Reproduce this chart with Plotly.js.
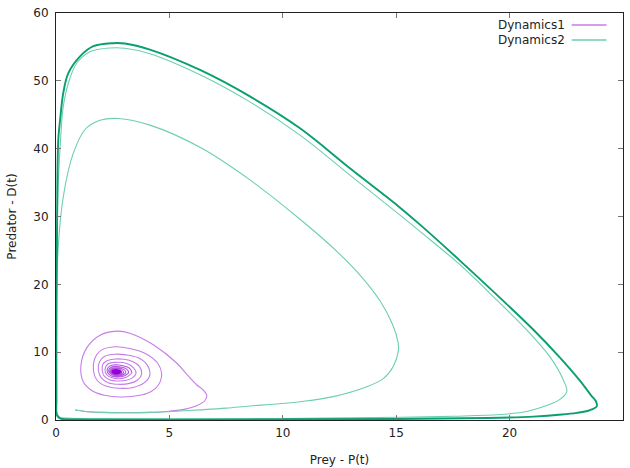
<!DOCTYPE html>
<html>
<head>
<meta charset="utf-8">
<script src="https://cdn.plot.ly/plotly-3.0.1.min.js"></script>
<style>html,body{margin:0;padding:0;background:#fff;}#chart{width:630px;height:468px;}</style>
</head>
<body>
<div id="chart"></div>
<script>
// ---- Data (Prey P, Predator D) ----
var seriesNames = ["Dynamics1", "Dynamics2"];
var xTitle = "Prey - P(t)";
var yTitle = "Predator - D(t)";

// Dynamics1: outer part of the spiral
var dyn1OuterP = [0.84,1.4,1.94,3.0,4.14,5.0,5.7,6.2,6.55,
  6.65,6.5,6.2,5.8,5.32,4.29,3.26,2.68,1.94,1.35,1.1,1.2,1.65,2.2,2.82,3.5,4.0,4.4,4.6,4.66,
  4.5,4.0,3.3,2.6,2.0,1.7,1.65,1.8,2.2,2.8,3.4,3.9,4.14,
  4.0,3.6,3.1,2.6,2.15,1.92,1.87,2.0,2.3,2.75,3.25,3.6,3.78,
  3.68,3.4,3.0,2.6,2.25,2.06,2.04,2.12,2.35,2.7,3.1,3.38,3.53,
  3.42,3.15,2.6,2.3,2.16,2.25,2.65,3.1,3.35];
var dyn1OuterD = [1.47,1.22,1.13,1.06,1.13,1.3,1.6,2.1,2.8,
  3.6,4.4,5.2,6.6,8.4,11.1,12.8,13.1,12.5,10.6,8.1,5.65,4.2,3.6,3.4,3.55,3.9,4.7,5.7,6.8,
  8.3,9.7,10.5,10.8,10.3,9.0,7.3,5.9,5.0,4.67,4.8,5.5,6.7,
  8.2,9.2,9.6,9.7,9.4,8.6,7.3,6.2,5.5,5.26,5.4,5.9,6.8,
  7.9,8.6,8.95,9.0,8.75,8.2,7.3,6.5,5.95,5.75,5.85,6.25,6.9,
  7.7,8.3,8.5,8.3,7.4,6.6,6.1,6.3,6.95];
// Dynamics1: tighter rings
var dyn1MidP = [3.35,3.25,2.95,2.6,2.35,2.25,2.35,2.65,3.0,3.2,
  3.12,2.85,2.6,2.4,2.32,2.42,2.65,2.95,3.08,
  3.0,2.6,2.42,2.38,2.45,2.65,2.9,2.98,
  2.9,2.6,2.43,2.5,2.65,2.86,2.9];
var dyn1MidD = [6.95,7.6,8.0,8.15,7.9,7.35,6.7,6.35,6.5,6.97,
  7.5,7.82,7.9,7.7,7.3,6.8,6.5,6.65,6.98,
  7.42,7.7,7.5,7.2,6.85,6.65,6.75,7.0,
  7.35,7.55,7.25,6.9,6.75,6.85,7.0];
// Dynamics1: core near the equilibrium
var dyn1CoreP = [2.9,2.82,2.6,2.47,2.52,2.65,2.8,2.83,
  2.77,2.6,2.5,2.56,2.7,2.77,
  2.72,2.6,2.53,2.6,2.7,2.72,
  2.67,2.6,2.56,2.62,2.67,2.64,2.6,2.59,2.62];
var dyn1CoreD = [7.0,7.28,7.42,7.2,6.95,6.82,6.9,7.0,
  7.22,7.33,7.15,6.95,6.9,7.02,
  7.17,7.25,7.1,6.95,6.97,7.05,
  7.12,7.17,7.07,6.98,7.03,7.08,7.1,7.04,7.02];

// Dynamics2: transient loops
var dyn2TransP = [0.84,1.4,1.94,3.0,4.14,5.3,6.35,7.5,8.55,9.7,10.76,12.23,13.7,14.43,14.87,15.1,15.08,14.85,14.3,13.5,12.37,10.72,8.55,6.35,4.14,2.75,1.94,1.3,0.76,0.32,0.1,0.03,0.01,0.01,0.03,0.15,0.5,2,5,10,
  15.17,17.5,19.58,20.8,21.6,22.2,22.52,22.37,21.78,20.75,19.43,17.81,16.05,15.17,12.96,10.76,8.55,6.35,4.14,3.04,2.4,1.5,0.91,0.54,0.32,0.22,0.1,0.04,0.02,0.02,0.05,0.2,1,5,10];
var dyn2TransD = [1.47,1.22,1.13,1.06,1.13,1.3,1.5,1.75,2.06,2.35,2.7,3.45,4.9,6.1,7.9,10.3,11.5,14.0,17.5,21.0,24.9,29.7,35.4,40.2,43.47,44.45,44.2,42.9,39.3,32.9,25.6,18.2,10,4,1.2,0.45,0.28,0.2,0.18,0.22,
  0.4,0.55,0.8,1.3,2.1,3.0,4.2,5.9,9.3,13.3,17.7,22.9,27.8,30.2,36.1,42.0,46.9,50.9,54.0,54.8,54.85,54.3,52.6,49.6,46.2,42.3,35,25,12,3,0.8,0.3,0.15,0.1,0.12];
// Dynamics2: converged limit cycle (traced repeatedly, drawn thick)
var dyn2CycleP = [10,15,19,21.05,22.3,22.96,23.5,23.84,23.8,23.6,23.1,22.22,21.05,19.58,17.81,16.05,15.17,12.96,10.76,8.55,6.35,4.14,3.04,2.5,1.65,1.06,0.54,0.32,0.18,0.1,0.05,0.02,0.02,0.04,0.2,1,5,10,15,19];
var dyn2CycleD = [0.12,0.15,0.3,0.5,0.8,1.05,1.4,2.0,2.8,3.6,5.8,9.2,13.3,18.0,23.5,28.8,31.3,37.1,43.0,47.7,51.6,54.6,55.5,55.55,55.1,53.6,51.1,48.2,44.2,41.3,30,15,3,0.7,0.2,0.08,0.05,0.08,0.15,0.3];

var purpleLight = "#c67de8";
var greenLight = "#6ccfae";

var traces = [
  {x: dyn1OuterP, y: dyn1OuterD, name: seriesNames[0], mode: "lines", showlegend: false,
   line: {color: purpleLight, width: 1.1, shape: "spline", smoothing: 1}},
  {x: dyn1MidP, y: dyn1MidD, name: seriesNames[0], mode: "lines", showlegend: false,
   line: {color: "#b455e2", width: 1.1, shape: "spline", smoothing: 1}},
  {x: dyn1CoreP, y: dyn1CoreD, name: seriesNames[0], mode: "lines", showlegend: false,
   line: {color: "#9400d3", width: 1.3, shape: "spline", smoothing: 1}},
  {x: dyn2TransP, y: dyn2TransD, name: seriesNames[1], mode: "lines", showlegend: false,
   line: {color: greenLight, width: 1.1, shape: "spline", smoothing: 1}},
  {x: dyn2CycleP, y: dyn2CycleD, name: seriesNames[1], mode: "lines", showlegend: false,
   line: {color: "#0a9e72", width: 1.9, shape: "spline", smoothing: 1}}
];

var fontFam = "DejaVu Sans, sans-serif";
var axisCommon = {
  ticks: "inside", ticklen: 5, tickwidth: 1, tickcolor: "#777",
  showline: true, linecolor: "#222", linewidth: 1, mirror: "ticks",
  showgrid: false, zeroline: false,
  tickfont: {family: fontFam, size: 12, color: "#222"}
};

var layout = {
  width: 630, height: 468,
  margin: {l: 56, r: 7, t: 13, b: 48},
  paper_bgcolor: "#fff", plot_bgcolor: "#fff",
  showlegend: false,
  xaxis: Object.assign({}, axisCommon, {
    range: [0, 25], tick0: 0, dtick: 5, ticklabelstandoff: 2,
    title: {text: xTitle, font: {family: fontFam, size: 12, color: "#222"}, standoff: 16}
  }),
  yaxis: Object.assign({}, axisCommon, {
    range: [0, 60], tick0: 0, dtick: 10, ticklabelstandoff: 4,
    title: {text: yTitle, font: {family: fontFam, size: 12, color: "#222"}, standoff: 14}
  }),
  annotations: [
    {xref: "paper", yref: "paper", x: 0.902, y: 0.9705, xanchor: "right", yanchor: "middle",
     text: seriesNames[0], showarrow: false, font: {family: fontFam, size: 12, color: "#222"}},
    {xref: "paper", yref: "paper", x: 0.902, y: 0.9337, xanchor: "right", yanchor: "middle",
     text: seriesNames[1], showarrow: false, font: {family: fontFam, size: 12, color: "#222"}}
  ],
  shapes: [
    {type: "line", xref: "paper", yref: "paper", x0: 0.9095, x1: 0.971, y0: 0.9705, y1: 0.9705,
     line: {color: purpleLight, width: 1.5}},
    {type: "line", xref: "paper", yref: "paper", x0: 0.9095, x1: 0.971, y0: 0.9337, y1: 0.9337,
     line: {color: greenLight, width: 1.5}}
  ]
};

Plotly.newPlot("chart", traces, layout, {displayModeBar: false, staticPlot: true});
</script>
</body>
</html>
